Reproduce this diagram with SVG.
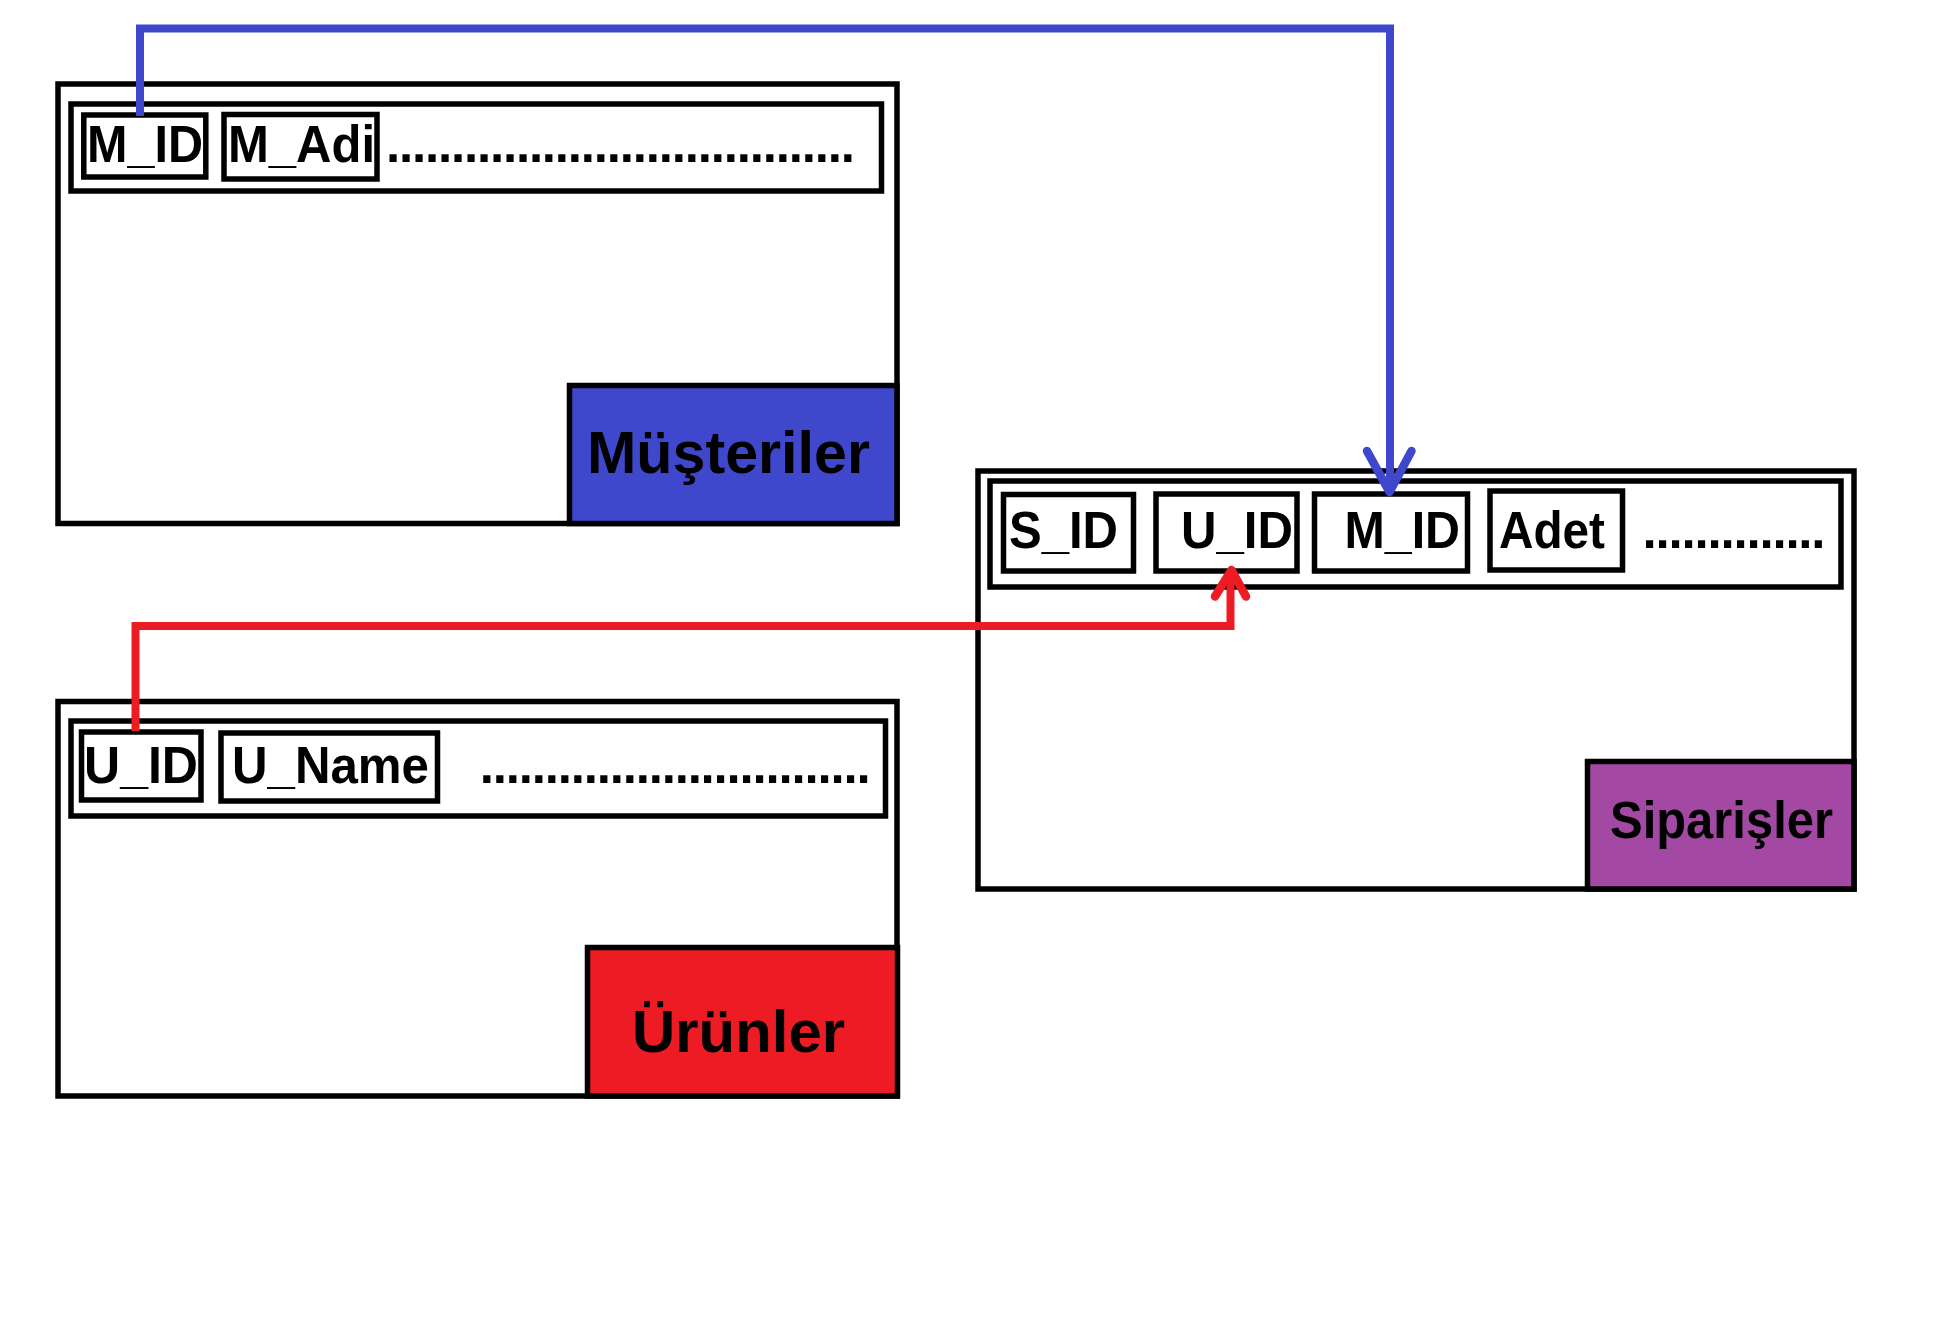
<svg xmlns="http://www.w3.org/2000/svg" width="1936" height="1342" viewBox="0 0 1936 1342">
<style>
.box{fill:#fff;stroke:#000;stroke-width:5.5}
.fld{fill:#fff;stroke:#000;stroke-width:5.5}
.t{font-family:"Liberation Sans",Arial,sans-serif;font-weight:bold;fill:#000}
.f{font-size:52px}
.dots{font-size:51px;letter-spacing:-1.18px}
.conn{fill:none;stroke-width:8;stroke-linejoin:miter}
.head{fill:none;stroke-width:8.5;stroke-linecap:round;stroke-linejoin:round}
</style>
<rect width="1936" height="1342" fill="#fff"/>

<g id="musteriler">
<rect class="box" x="58" y="84" width="839" height="439.5"/>
<rect class="box" x="71" y="104" width="810.5" height="87"/>
<rect class="fld" x="83.8" y="115" width="122" height="62"/>
<rect class="fld" x="224" y="114.5" width="153" height="64.5"/>
<text class="t f" x="87" y="161.5" textLength="116" lengthAdjust="spacingAndGlyphs">M_ID</text>
<text class="t f" x="228" y="162" textLength="147" lengthAdjust="spacingAndGlyphs">M_Adi</text>
<text class="t dots" x="386" y="161.5">....................................</text>
<rect x="569.5" y="385.5" width="327.5" height="138" fill="#3F48CC" stroke="#000" stroke-width="5.5"/>
<text class="t" x="587" y="473.3" font-size="59" textLength="283" lengthAdjust="spacingAndGlyphs">Müşteriler</text>
</g>

<g id="urunler">
<rect class="box" x="58" y="701.5" width="839" height="394.5"/>
<rect class="box" x="71" y="721" width="814.5" height="95"/>
<rect class="fld" x="81.5" y="732" width="119.5" height="68"/>
<rect class="fld" x="221" y="733" width="216.5" height="68"/>
<text class="t f" x="84" y="782.7" textLength="114" lengthAdjust="spacingAndGlyphs">U_ID</text>
<text class="t f" x="232" y="782.7" textLength="197" lengthAdjust="spacingAndGlyphs">U_Name</text>
<text class="t dots" x="479.8" y="782.5">..............................</text>
<rect x="587.5" y="947.5" width="310" height="148.5" fill="#ED1C24" stroke="#000" stroke-width="5.5"/>
<text class="t" x="632" y="1051.7" font-size="60" textLength="213" lengthAdjust="spacingAndGlyphs">Ürünler</text>
</g>

<g id="siparisler">
<rect class="box" x="978" y="471" width="876" height="418"/>
<rect class="box" x="990" y="481" width="851" height="106"/>
<rect class="fld" x="1003.5" y="494.5" width="130" height="76.5"/>
<rect class="fld" x="1156" y="494" width="141" height="77"/>
<rect class="fld" x="1314.5" y="494" width="153" height="77"/>
<rect class="fld" x="1490" y="491" width="132.5" height="79"/>
<text class="t f" x="1009" y="548" textLength="109" lengthAdjust="spacingAndGlyphs">S_ID</text>
<text class="t f" x="1181" y="548" textLength="112" lengthAdjust="spacingAndGlyphs">U_ID</text>
<text class="t f" x="1344.5" y="548" textLength="115.5" lengthAdjust="spacingAndGlyphs">M_ID</text>
<text class="t f" x="1499" y="548" textLength="106" lengthAdjust="spacingAndGlyphs">Adet</text>
<text class="t dots" x="1642.5" y="547.5">..............</text>
<rect x="1587.5" y="761.5" width="266.5" height="127.5" fill="#A349A4" stroke="#000" stroke-width="5.5"/>
<text class="t" x="1610" y="838.3" font-size="51" textLength="223" lengthAdjust="spacingAndGlyphs">Siparişler</text>
</g>

<g id="connectors">
<path class="conn" stroke="#3F48CC" d="M140 116 L140 28.5 L1390 28.5 L1390 490"/>
<path class="head" stroke="#3F48CC" d="M1367 451 L1389.5 492 L1411.5 451"/>
<path class="conn" stroke="#ED1C24" d="M135.5 731 L135.5 626 L1230.5 626 L1230.5 573"/>
<path class="head" stroke="#ED1C24" d="M1215 596.5 L1231.5 570 L1246 596.5"/>
</g>
</svg>
